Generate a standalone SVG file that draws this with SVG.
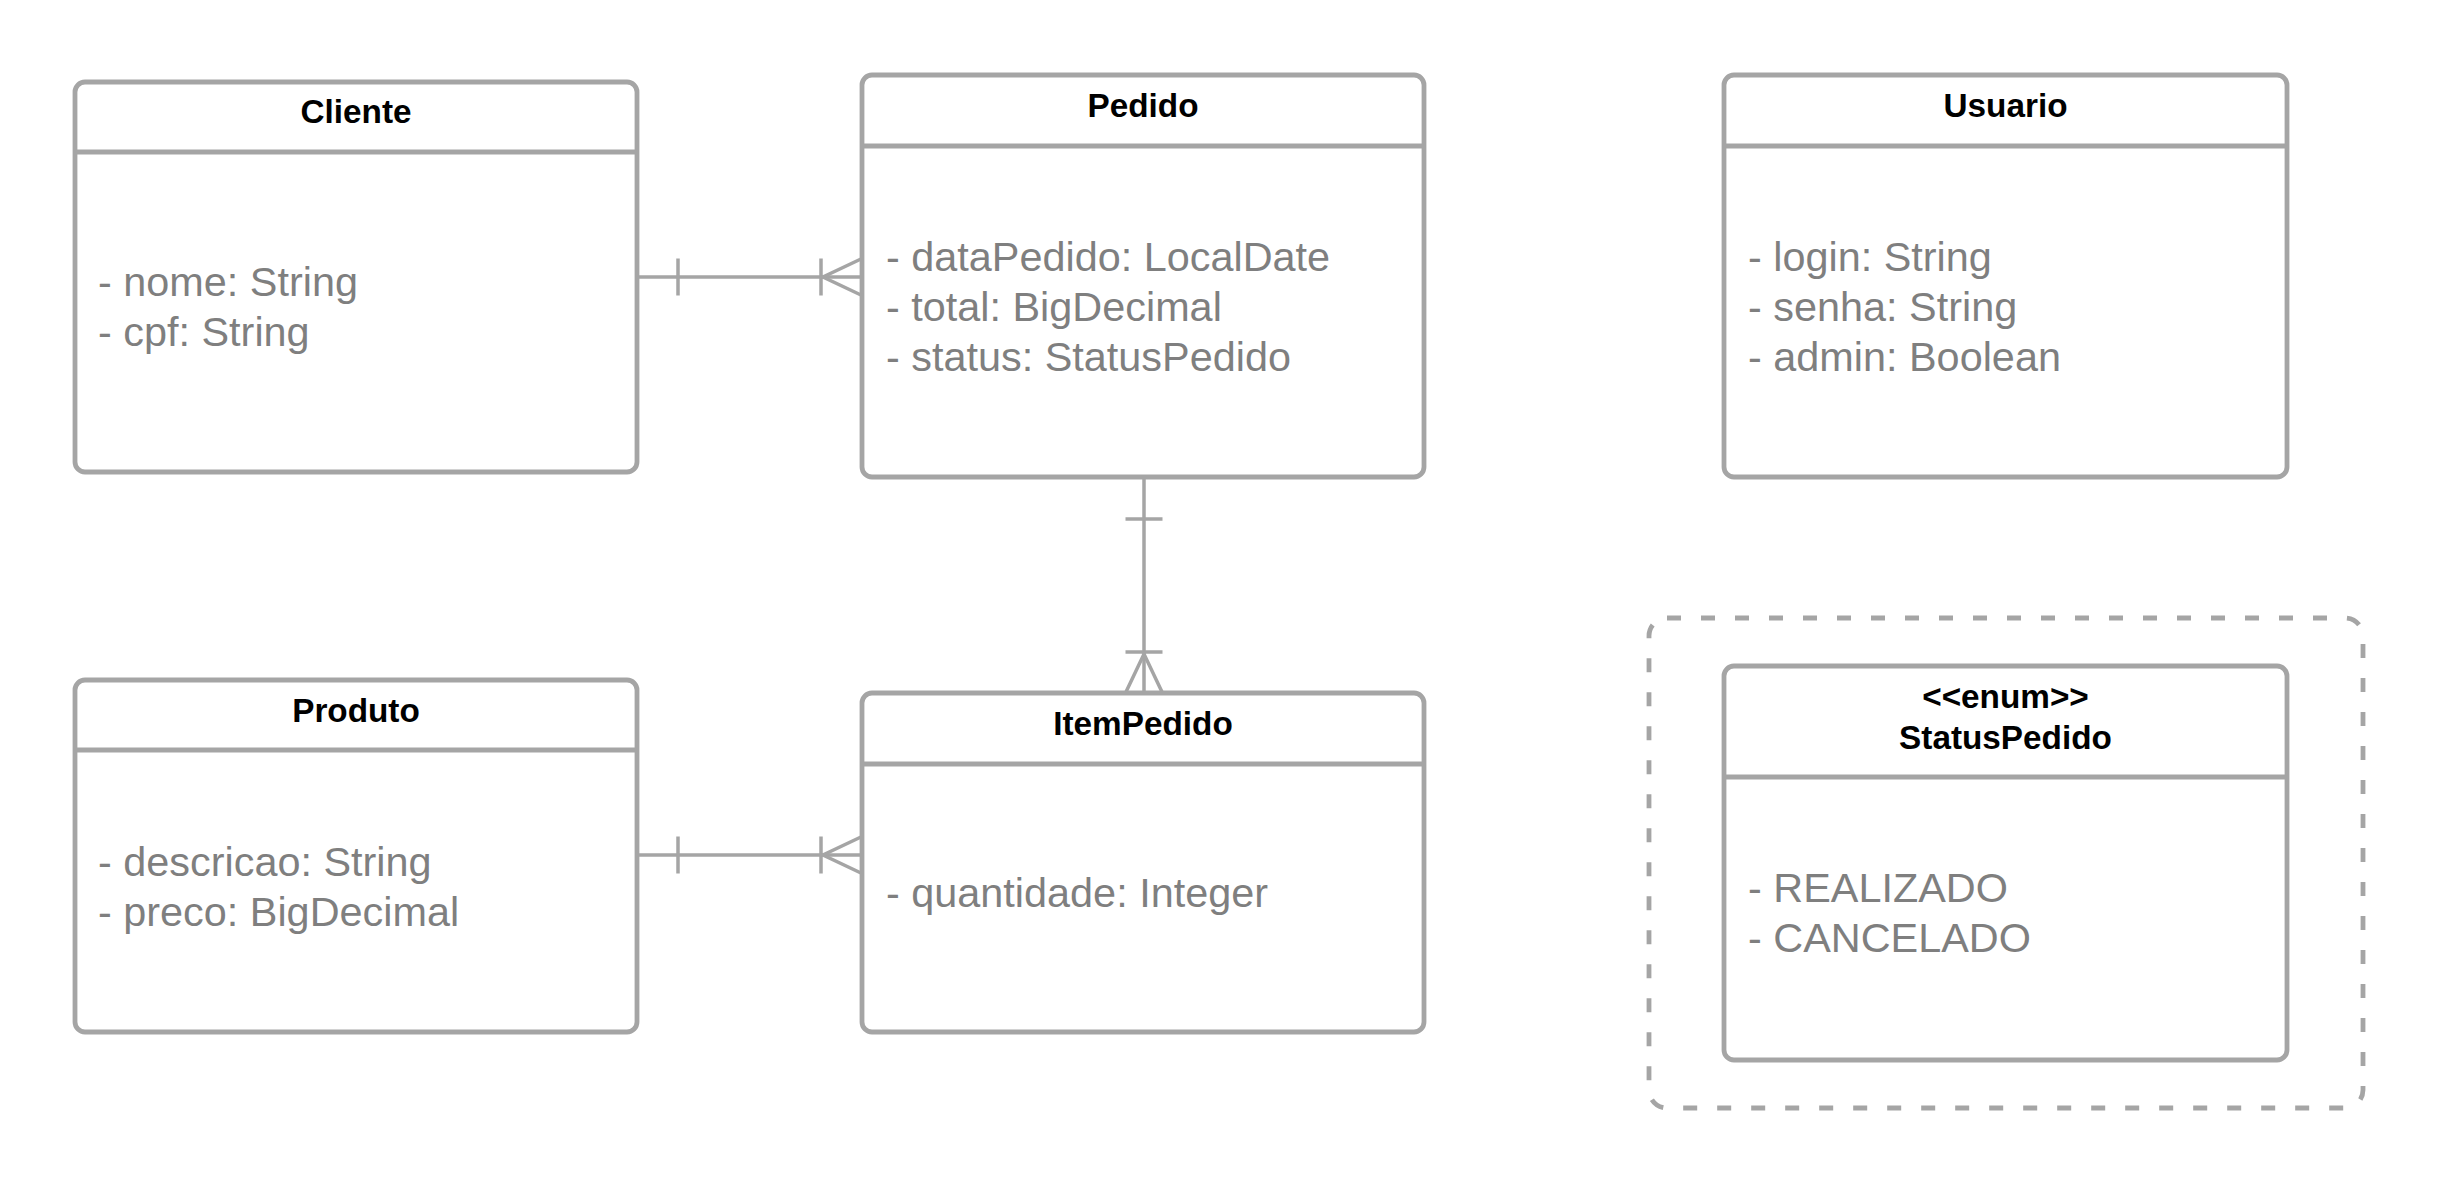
<svg xmlns="http://www.w3.org/2000/svg" width="2438" height="1181" viewBox="0 0 2438 1181">
<style>
.box{fill:#ffffff;stroke:#a5a5a5;stroke-width:4.8}
.div{stroke:#a5a5a5;stroke-width:4.8}
.title{font-family:"Liberation Sans",Arial,sans-serif;font-weight:bold;font-size:33.3px;fill:#000000;text-anchor:middle}
.attr{font-family:"Liberation Sans",Arial,sans-serif;font-size:41.4px;fill:#7f7f7f}
.con{stroke:#a5a5a5;stroke-width:3.5;fill:none}
.frame{fill:none;stroke:#a5a5a5;stroke-width:4.8;stroke-dasharray:14 20}
</style>
<rect width="2438" height="1181" fill="#ffffff"/>
<rect id="enumFrame" class="frame" x="1649" y="618" width="714" height="490" rx="18"/>
<g id="connectors">
  <g id="cliente-pedido">
    <line class="con" x1="637" y1="277" x2="862" y2="277"/>
    <line class="con" x1="678" y1="258.5" x2="678" y2="295.5"/>
    <line class="con" x1="821" y1="258.5" x2="821" y2="295.5"/>
    <polyline class="con" points="862,258.5 823,277 862,295.5"/>
  </g>
  <g id="produto-itempedido">
    <line class="con" x1="637" y1="855" x2="862" y2="855"/>
    <line class="con" x1="678" y1="836.5" x2="678" y2="873.5"/>
    <line class="con" x1="821" y1="836.5" x2="821" y2="873.5"/>
    <polyline class="con" points="862,836.5 823,855 862,873.5"/>
  </g>
  <g id="pedido-itempedido">
    <line class="con" x1="1144" y1="477" x2="1144" y2="693"/>
    <line class="con" x1="1125.5" y1="519" x2="1162.5" y2="519"/>
    <line class="con" x1="1125.5" y1="652" x2="1162.5" y2="652"/>
    <polyline class="con" points="1125.5,693 1144,654 1162.5,693"/>
  </g>
</g>
<g id="Cliente">
  <rect class="box" x="75" y="82" width="562" height="390" rx="10"/>
  <line class="div" x1="75" y1="152" x2="637" y2="152"/>
  <text class="title" x="356" y="123">Cliente</text>
  <text class="attr"><tspan x="98" y="296">- nome: String</tspan><tspan x="98" y="346">- cpf: String</tspan></text>
</g>
<g id="Pedido">
  <rect class="box" x="862" y="75" width="562" height="402" rx="10"/>
  <line class="div" x1="862" y1="146" x2="1424" y2="146"/>
  <text class="title" x="1143" y="117">Pedido</text>
  <text class="attr"><tspan x="886" y="271">- dataPedido: LocalDate</tspan><tspan x="886" y="321">- total: BigDecimal</tspan><tspan x="886" y="371">- status: StatusPedido</tspan></text>
</g>
<g id="Usuario">
  <rect class="box" x="1724" y="75" width="563" height="402" rx="10"/>
  <line class="div" x1="1724" y1="146" x2="2287" y2="146"/>
  <text class="title" x="2005.5" y="117">Usuario</text>
  <text class="attr"><tspan x="1748" y="271">- login: String</tspan><tspan x="1748" y="321">- senha: String</tspan><tspan x="1748" y="371">- admin: Boolean</tspan></text>
</g>
<g id="Produto">
  <rect class="box" x="75" y="680" width="562" height="352" rx="10"/>
  <line class="div" x1="75" y1="750" x2="637" y2="750"/>
  <text class="title" x="356" y="721.5">Produto</text>
  <text class="attr"><tspan x="98" y="875.5">- descricao: String</tspan><tspan x="98" y="925.5">- preco: BigDecimal</tspan></text>
</g>
<g id="ItemPedido">
  <rect class="box" x="862" y="693" width="562" height="339" rx="10"/>
  <line class="div" x1="862" y1="764" x2="1424" y2="764"/>
  <text class="title" x="1143" y="734.5">ItemPedido</text>
  <text class="attr"><tspan x="886" y="906.5">- quantidade: Integer</tspan></text>
</g>
<g id="StatusPedido">
  <rect class="box" x="1724" y="666" width="563" height="394" rx="10"/>
  <line class="div" x1="1724" y1="777" x2="2287" y2="777"/>
  <text class="title"><tspan x="2005.5" y="708">&lt;&lt;enum&gt;&gt;</tspan><tspan x="2005.5" y="749">StatusPedido</tspan></text>
  <text class="attr"><tspan x="1748" y="902">- REALIZADO</tspan><tspan x="1748" y="952">- CANCELADO</tspan></text>
</g>
</svg>
